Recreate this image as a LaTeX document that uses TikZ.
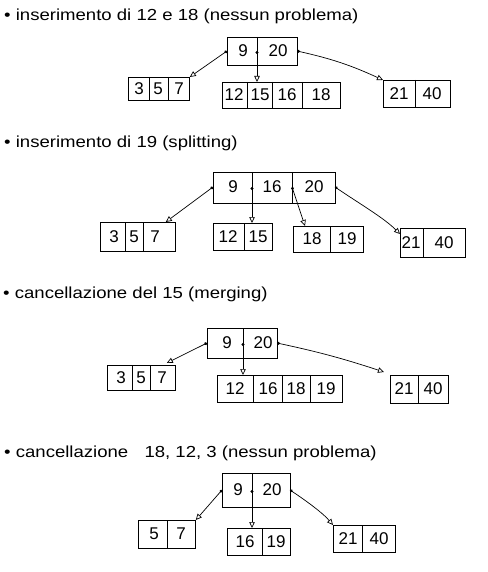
\documentclass[tikz,border=0pt]{standalone}
\usepackage{fontspec}
\setmainfont{Liberation Sans}
\usetikzlibrary{arrows.meta}
\newcommand\btbox[5]{\node[box, minimum width={#4-#2}, minimum height={#5-#3}] (#1) at (#2,#3) {};}
\newcommand\wide[1]{\scalebox{1.16}[1]{#1}}
\begin{document}
\begin{tikzpicture}[x=1pt,y=-1pt,
  box/.style={draw, line width=0.8pt, inner sep=0pt, anchor=north west},
  div/.style={line width=0.8pt},
  num/.style={inner sep=0pt, font=\fontsize{17}{17}\selectfont},
  title/.style={inner sep=0pt, anchor=west, font=\fontsize{16}{16}\selectfont},
  ptr/.style={draw, line width=0.7pt, {Circle[length=3pt]}-{Triangle[open,length=6pt,width=5.5pt]}}
]
\useasboundingbox (0,0) rectangle (487,572);

% ---------- section 1 ----------
\node[title] (t1) at (4,16) {\wide{• inserimento di 12 e 18 (nessun problema)}};
\btbox{r1}{227}{37}{297}{65}
\draw[div] (257,37) -- (257,65);
\node[num] (r1k1) at (243,51) {9};
\node[num] (r1k2) at (278,51) {20};
\coordinate (r1p0) at (227,51);
\coordinate (r1p1) at (257,51);
\coordinate (r1p2) at (297,51);

\btbox{l1a}{128}{77}{189}{100}
\draw[div] (149,77) -- (149,100);
\draw[div] (168,77) -- (168,100);
\node[num] (l1a1) at (139,89) {3};
\node[num] (l1a2) at (158,89) {5};
\node[num] (l1a3) at (179,89) {7};

\btbox{l1b}{222}{82}{340}{108}
\draw[div] (247,82) -- (247,108);
\draw[div] (272,82) -- (272,108);
\draw[div] (302,82) -- (302,108);
\node[num] (l1b1) at (234,95) {12};
\node[num] (l1b2) at (260,95) {15};
\node[num] (l1b3) at (287,95) {16};
\node[num] (l1b4) at (321,95) {18};

\btbox{l1c}{383}{80}{450}{107}
\draw[div] (415,80) -- (415,107);
\node[num] (l1c1) at (399,93.5) {21};
\node[num] (l1c2) at (432,93.5) {40};

\draw[ptr] (r1p0) -- (l1a.north east);
\draw[ptr] (r1p1) -- (r1p1 |- l1b.north);
\draw[ptr] (r1p2) to[bend left=6] (l1c.north west);

% ---------- section 2 ----------
\node[title] (t2) at (4,143) {\wide{• inserimento di 19 (splitting)}};
\btbox{r2}{213}{172}{335}{203}
\draw[div] (252,172) -- (252,203);
\draw[div] (292,172) -- (292,203);
\node[num] (r2k1) at (233,187) {9};
\node[num] (r2k2) at (272,187) {16};
\node[num] (r2k3) at (314,187) {20};
\coordinate (r2p0) at (213,187);
\coordinate (r2p1) at (252,187);
\coordinate (r2p2) at (292,187);
\coordinate (r2p3) at (335,187);

\btbox{l2a}{100}{222}{175}{251}
\draw[div] (125,222) -- (125,251);
\draw[div] (143,222) -- (143,251);
\node[num] (l2a1) at (114,237) {3};
\node[num] (l2a2) at (134,237) {5};
\node[num] (l2a3) at (155,237) {7};

\btbox{l2b}{213}{223}{272}{250}
\draw[div] (244,223) -- (244,250);
\node[num] (l2b1) at (228,236.5) {12};
\node[num] (l2b2) at (258,236.5) {15};

\btbox{l2c}{293}{226}{363}{252}
\draw[div] (330,226) -- (330,252);
\node[num] (l2c1) at (312,239) {18};
\node[num] (l2c2) at (347,239) {19};

\btbox{l2d}{400}{228}{465}{257}
\draw[div] (423,228) -- (423,257);
\node[num] (l2d1) at (411,242.5) {21};
\node[num] (l2d2) at (444,242.5) {40};

\draw[ptr] (r2p0) -- ([xshift=-10pt]l2a.north east);
\draw[ptr] (r2p1) -- (r2p1 |- l2b.north);
\draw[ptr] (r2p2) -- ([xshift=12pt]l2c.north west);
\draw[ptr] (r2p3) .. controls (360,204) and (384,218) .. ([yshift=-6pt]l2d.north west);

% ---------- section 3 ----------
\node[title] (t3) at (3,294) {\wide{• cancellazione del 15 (merging)}};
\btbox{r3}{207}{328}{277}{358}
\draw[div] (243,328) -- (243,358);
\node[num] (r3k1) at (227,343) {9};
\node[num] (r3k2) at (263,343) {20};
\coordinate (r3p0) at (207,343);
\coordinate (r3p1) at (243,343);
\coordinate (r3p2) at (277,343);

\btbox{l3a}{107}{365}{175}{390}
\draw[div] (132,365) -- (132,390);
\draw[div] (150,365) -- (150,390);
\node[num] (l3a1) at (121,377.5) {3};
\node[num] (l3a2) at (141,377.5) {5};
\node[num] (l3a3) at (162,377.5) {7};

\btbox{l3b}{217}{375}{342}{402}
\draw[div] (253,375) -- (253,402);
\draw[div] (282,375) -- (282,402);
\draw[div] (310,375) -- (310,402);
\node[num] (l3b1) at (235,388.5) {12};
\node[num] (l3b2) at (268,388.5) {16};
\node[num] (l3b3) at (296,388.5) {18};
\node[num] (l3b4) at (326,388.5) {19};

\btbox{l3c}{390}{375}{448}{403}
\draw[div] (418,375) -- (418,403);
\node[num] (l3c1) at (404,389) {21};
\node[num] (l3c2) at (433,389) {40};

\draw[ptr] (r3p0) -- ([xshift=-9pt,yshift=2pt]l3a.north east);
\draw[ptr] (r3p1) -- (r3p1 |- l3b.north);
\draw[ptr] (r3p2) to[bend left=3] ([xshift=-6pt,yshift=3pt]l3c.north west);

% ---------- section 4 ----------
\node[title] (t4) at (4,453) {\wide{• cancellazione\hspace{14pt}18, 12, 3 (nessun problema)}};
\btbox{r4}{222}{473}{290}{507}
\draw[div] (252,473) -- (252,507);
\node[num] (r4k1) at (238,490) {9};
\node[num] (r4k2) at (272,490) {20};
\coordinate (r4p0) at (222,490);
\coordinate (r4p1) at (252,490);
\coordinate (r4p2) at (290,490);

\btbox{l4a}{138}{520}{195}{548}
\draw[div] (167,520) -- (167,548);
\node[num] (l4a1) at (154,534) {5};
\node[num] (l4a2) at (181,534) {7};

\btbox{l4b}{227}{528}{290}{555}
\draw[div] (262,528) -- (262,555);
\node[num] (l4b1) at (245,541.5) {16};
\node[num] (l4b2) at (276,541.5) {19};

\btbox{l4c}{333}{525}{395}{552}
\draw[div] (362,525) -- (362,552);
\node[num] (l4c1) at (348,538.5) {21};
\node[num] (l4c2) at (379,538.5) {40};

\draw[ptr] (r4p0) -- (l4a.north east);
\draw[ptr] (r4p1) -- (r4p1 |- l4b.north);
\draw[ptr] (r4p2) .. controls (302,498) and (322,512) .. (l4c.north west);
\end{tikzpicture}
\end{document}
